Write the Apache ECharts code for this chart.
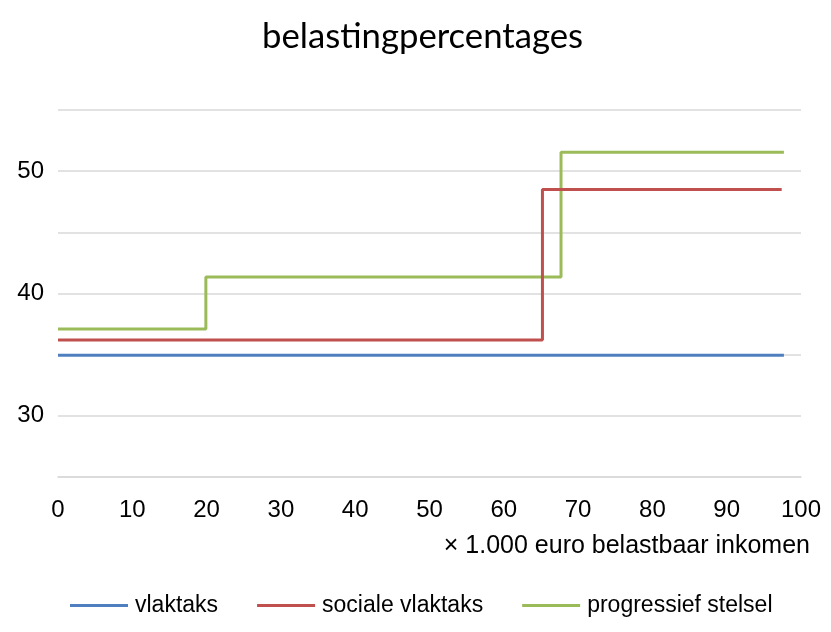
<!DOCTYPE html>
<html>
<head>
<meta charset="utf-8">
<script src="https://cdn.jsdelivr.net/npm/echarts@6/dist/echarts.min.js"></script>
<style>html,body{margin:0;padding:0;background:#fff}#c{width:831px;height:632px}</style>
</head>
<body>
<div id="c"></div>
<script>
// breakpoints (× 1.000 euro) and rates (%)
const vlaktaksX = [0, 97.7];
const vlaktaksY = [34.95, 34.95];
const socialeX = [0, 65.2, 97.4];
const socialeY = [36.2, 48.5, 48.5];
const progressiefX = [0, 19.9, 67.7, 97.7];
const progressiefY = [37.1, 41.35, 51.55, 51.55];
const seriesNames = ['vlaktaks', 'sociale vlaktaks', 'progressief stelsel'];
const colors = ['#4F7FBF', '#C0504D', '#9BBB59'];

const zip = (xs, ys) => xs.map((x, i) => [x, ys[i]]);
const font = 'Arial, "Liberation Sans", sans-serif';

const chart = echarts.init(document.getElementById('c'));
chart.setOption({
  animation: false,
  title: {
    text: 'belastingpercentages',
    left: 257, top: 14,
    textStyle: { fontFamily: 'Lato, "Open Sans", sans-serif', fontSize: 34.7, fontWeight: 'normal', color: '#000' }
  },
  legend: {
    left: 70, top: 594, padding: 0,
    icon: 'rect', itemWidth: 58, itemHeight: 3, itemGap: 39,
    textStyle: { fontFamily: font, fontSize: 23, color: '#000', padding: [0, 0, 0, 2] },
    data: seriesNames
  },
  grid: { left: 58, right: 30, top: 110, bottom: 155, containLabel: false },
  xAxis: {
    type: 'value', min: 0, max: 100, interval: 10,
    name: '× 1.000 euro belastbaar inkomen',
    nameLocation: 'end', nameGap: 0,
    nameTextStyle: { fontFamily: font, fontSize: 25, color: '#000', align: 'right', verticalAlign: 'top', padding: [57, -9, 0, 0] },
    axisLine: { show: true, lineStyle: { color: '#d9d9d9', width: 1.5 } },
    axisTick: { show: false },
    splitLine: { show: false },
    axisLabel: { fontFamily: font, fontSize: 24, color: '#000', margin: 21 }
  },
  yAxis: {
    type: 'value', min: 25, max: 55, interval: 5,
    axisLine: { show: false }, axisTick: { show: false },
    splitLine: { lineStyle: { color: '#d9d9d9', width: 1.5 } },
    axisLabel: {
      fontFamily: font, fontSize: 24, color: '#000', margin: 14,
      formatter: v => (v % 10 === 0 && v > 25 && v < 55) ? String(v) : ''
    }
  },
  series: [
    { name: seriesNames[0], type: 'line', step: 'end', data: zip(vlaktaksX, vlaktaksY) },
    { name: seriesNames[1], type: 'line', step: 'end', data: zip(socialeX, socialeY) },
    { name: seriesNames[2], type: 'line', step: 'end', data: zip(progressiefX, progressiefY) }
  ].map((s, i) => Object.assign(s, {
    showSymbol: false, symbol: 'none',
    color: colors[i],
    lineStyle: { color: colors[i], width: 3 },
    z: 3 - i
  }))
});
</script>
</body>
</html>
